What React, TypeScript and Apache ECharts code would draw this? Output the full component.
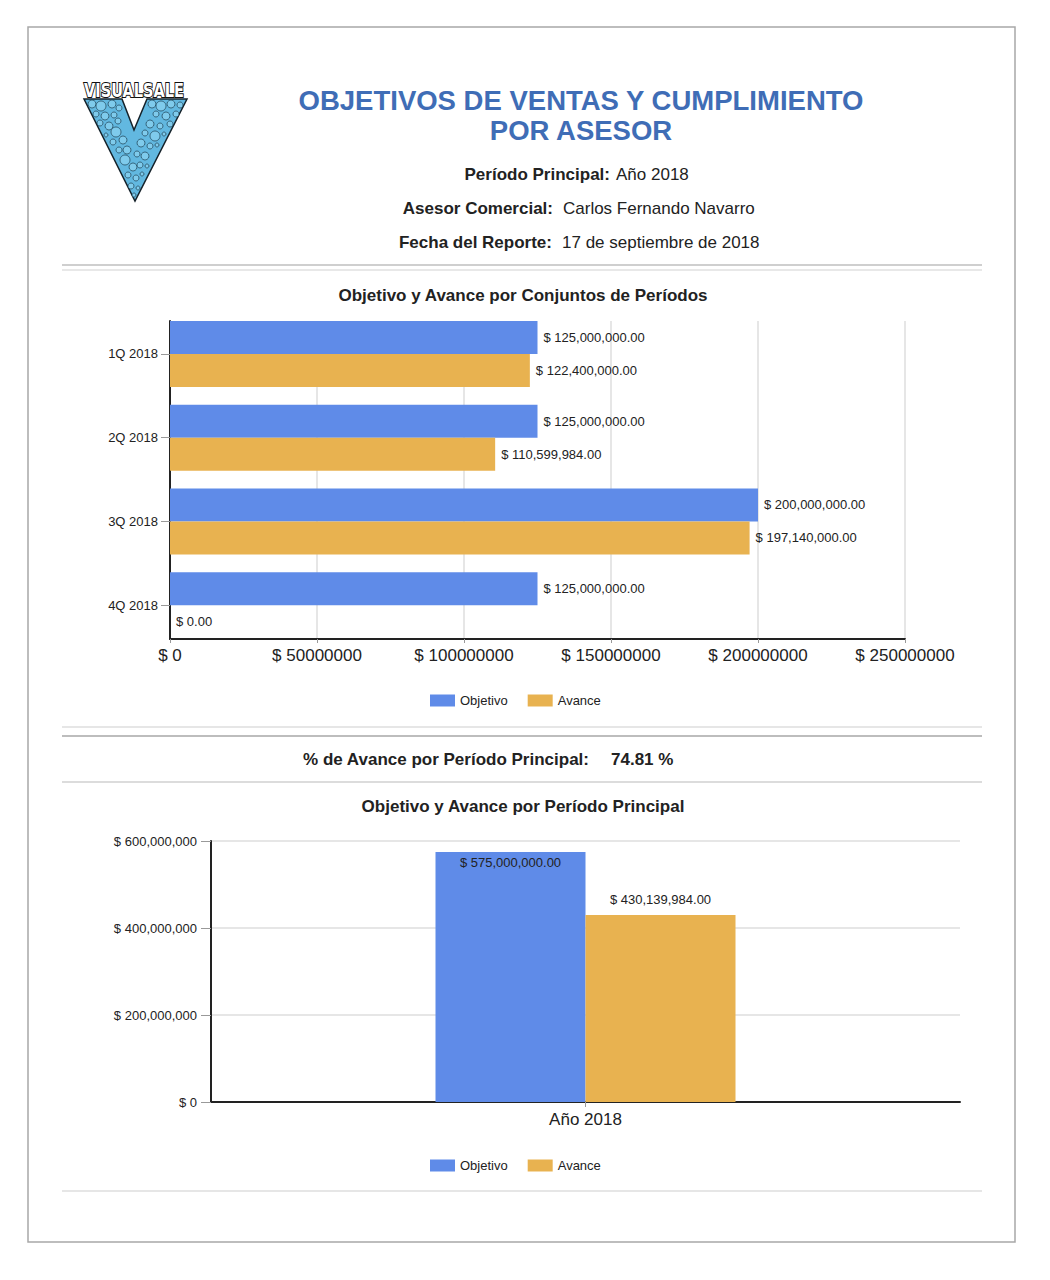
import React, { useEffect, useRef } from "react";
import * as echarts from "echarts";

// ---- Data ----
const periods = ["1Q 2018", "2Q 2018", "3Q 2018", "4Q 2018"];
const objetivoTrim = [125000000, 125000000, 200000000, 125000000];
const avanceTrim = [122400000, 110599984, 197140000, 0];

const mainPeriod = ["Año 2018"];
const objetivoAnual = [575000000];
const avanceAnual = [430139984];

const seriesNames = ["Objetivo", "Avance"];
const avancePct = "74.81 %";

const FONT = "'Liberation Sans', Arial, Helvetica, sans-serif";
const BLUE = "#5F8BE8";
const ORANGE = "#E8B250";
const TXT = "#222222";

const fmtMoney = (v: number) =>
  "$ " + v.toLocaleString("en-US", { minimumFractionDigits: 2, maximumFractionDigits: 2 });
const fmtInt = (v: number) => "$ " + v.toLocaleString("en-US", { maximumFractionDigits: 0 });

function buildLogo(): any[] {
  const bubbles: [number, number, number][] = [
    [92, 104, 4], [101, 106, 5], [112, 104, 4], [119, 108, 3], [96, 114, 3],
    [105, 116, 4], [114, 115, 3], [100, 123, 3], [109, 126, 4], [118, 121, 3],
    [116, 132, 5], [106, 135, 2], [123, 140, 4], [113, 142, 3], [119, 150, 3],
    [127, 150, 4], [125, 160, 5], [133, 167, 4], [128, 175, 3], [136, 178, 3],
    [131, 186, 3], [138, 188, 2], [134, 195, 2], [152, 104, 4], [161, 106, 5],
    [171, 104, 4], [180, 105, 3], [156, 114, 3], [166, 116, 4], [176, 114, 3],
    [150, 124, 4], [160, 126, 3], [170, 124, 3], [145, 133, 3], [155, 136, 5],
    [164, 134, 2], [141, 143, 4], [150, 146, 3], [157, 145, 2], [137, 154, 3],
    [145, 156, 4], [140, 165, 3], [147, 166, 2], [142, 174, 2],
  ];
  const items: any[] = [
    {
      type: "polygon",
      shape: {
        points: [
          [84, 99], [122, 99], [134, 130], [147, 99], [187, 99], [135, 201],
        ],
      },
      style: { fill: "#62B8E0", stroke: "#15222a", lineWidth: 1.5 },
    },
  ];
  bubbles.forEach(([x, y, r]) => {
    items.push({
      type: "circle",
      shape: { cx: x, cy: y, r },
      style: { fill: "#7FCBEC", stroke: "#1D3F52", lineWidth: 0.7 },
    });
  });
  items.push({
    type: "text",
    x: 134,
    y: 91,
    style: {
      text: "VISUALSALE",
      font: `bold 19px 'DejaVu Sans Condensed', ${FONT}`,
      fill: "#fff",
      stroke: "#111",
      lineWidth: 2,
      textAlign: "center",
      textVerticalAlign: "middle",
    },
    scaleX: 0.85,
    originX: 0,
    originY: 0,
  });
  return items;
}

function hline(y: number, color: string, w = 2) {
  return {
    type: "line",
    shape: { x1: 62, y1: y, x2: 982, y2: y },
    style: { stroke: color, lineWidth: w },
  };
}

function txt(x: number, y: number, text: string, opts: any = {}) {
  return {
    type: "text",
    x,
    y,
    style: {
      text,
      font: opts.font || `17px ${FONT}`,
      fill: opts.fill || TXT,
      textAlign: opts.align || "center",
      textVerticalAlign: "middle",
    },
  };
}

const barLabel = (position: string, distance: number) => ({
  show: true,
  position,
  distance,
  formatter: (p: any) => fmtMoney(p.value),
  fontSize: 13,
  color: TXT,
  fontFamily: FONT,
});

const legendAt = (top: number) => ({
  data: seriesNames,
  left: 430,
  top,
  padding: 0,
  icon: "rect",
  itemWidth: 25,
  itemHeight: 12,
  itemGap: 20,
  textStyle: { fontSize: 13, color: TXT, fontFamily: FONT },
});

export default function App() {
  const ref = useRef<HTMLDivElement>(null);

  useEffect(() => {
    if (!ref.current) return;
    const chart = echarts.init(ref.current, undefined, { renderer: "svg" });

    const option: any = {
      animation: false,
      backgroundColor: "#ffffff",
      textStyle: { fontFamily: FONT },
      grid: [
        { left: 170, top: 321, width: 735, height: 318 },
        { left: 170, top: 312, width: 735, height: 335 },
        { left: 211, top: 841, width: 749, height: 261 },
      ],
      xAxis: [
        {
          gridIndex: 0,
          type: "value",
          min: 0,
          max: 250000000,
          interval: 50000000,
          axisLine: { show: true, lineStyle: { color: "#222", width: 2 } },
          axisTick: { show: true, length: 4, lineStyle: { color: "#999" } },
          axisLabel: {
            formatter: (v: number) => "$ " + v,
            fontSize: 17,
            color: TXT,
            margin: 8,
            fontFamily: FONT,
          },
          splitLine: { show: true, lineStyle: { color: "#dedede", width: 1.5 } },
        },
        {
          gridIndex: 1,
          type: "value",
          min: 0,
          max: 250000000,
          show: false,
        },
        {
          gridIndex: 2,
          type: "category",
          data: mainPeriod,
          axisLine: { show: true, lineStyle: { color: "#222", width: 2 } },
          axisTick: { show: true, alignWithLabel: true, length: 5, lineStyle: { color: "#999" } },
          axisLabel: { fontSize: 17, color: TXT, margin: 9, fontFamily: FONT },
        },
      ],
      yAxis: [
        {
          gridIndex: 0,
          type: "value",
          min: 0,
          max: 1,
          axisLine: { show: true, lineStyle: { color: "#222", width: 2 } },
          axisTick: { show: false },
          axisLabel: { show: false },
          splitLine: { show: false },
        },
        {
          gridIndex: 1,
          type: "category",
          data: periods,
          inverse: true,
          axisLine: { show: false },
          axisTick: { show: true, alignWithLabel: true, length: 9, lineStyle: { color: "#999" } },
          axisLabel: { fontSize: 13, color: TXT, margin: 12, fontFamily: FONT },
          splitLine: { show: false },
        },
        {
          gridIndex: 2,
          type: "value",
          min: 0,
          max: 600000000,
          interval: 200000000,
          axisLine: { show: true, lineStyle: { color: "#222", width: 2 } },
          axisTick: { show: true, length: 10, lineStyle: { color: "#999" } },
          axisLabel: {
            formatter: (v: number) => fmtInt(v),
            fontSize: 13,
            color: TXT,
            margin: 14,
            fontFamily: FONT,
          },
          splitLine: { show: true, lineStyle: { color: "#dedede", width: 1.5 } },
        },
      ],
      legend: [legendAt(694), legendAt(1159)],
      series: [
        {
          name: seriesNames[0],
          type: "bar",
          xAxisIndex: 1,
          yAxisIndex: 1,
          data: objetivoTrim,
          barWidth: 33,
          barGap: "0%",
          itemStyle: { color: BLUE },
          label: barLabel("right", 6),
        },
        {
          name: seriesNames[1],
          type: "bar",
          xAxisIndex: 1,
          yAxisIndex: 1,
          data: avanceTrim,
          barWidth: 33,
          barGap: "0%",
          itemStyle: { color: ORANGE },
          label: barLabel("right", 6),
        },
        {
          name: seriesNames[0],
          type: "bar",
          xAxisIndex: 2,
          yAxisIndex: 2,
          data: objetivoAnual,
          barWidth: 150,
          barGap: "0%",
          itemStyle: { color: BLUE },
          label: barLabel("insideTop", 4),
        },
        {
          name: seriesNames[1],
          type: "bar",
          xAxisIndex: 2,
          yAxisIndex: 2,
          data: avanceAnual,
          barWidth: 150,
          barGap: "0%",
          itemStyle: { color: ORANGE },
          label: barLabel("top", 9),
        },
      ],
      graphic: [
        {
          type: "rect",
          shape: { x: 28, y: 27, width: 987, height: 1215 },
          style: { fill: "none", stroke: "#a8a8a8", lineWidth: 1.5 },
          z: -1,
        },
        ...buildLogo(),
        txt(581, 100, "OBJETIVOS DE VENTAS Y CUMPLIMIENTO", {
          font: `bold 27.5px ${FONT}`,
          fill: "#3F6DB6",
        }),
        txt(581, 130, "POR ASESOR", { font: `bold 27.5px ${FONT}`, fill: "#3F6DB6" }),
        txt(610, 174, "Período Principal:", { font: `bold 17px ${FONT}`, align: "right" }),
        txt(616, 174, "Año 2018", { align: "left" }),
        txt(553, 208, "Asesor Comercial:", { font: `bold 17px ${FONT}`, align: "right" }),
        txt(563, 208, "Carlos Fernando Navarro", { align: "left" }),
        txt(552, 242, "Fecha del Reporte:", { font: `bold 17px ${FONT}`, align: "right" }),
        txt(562, 242, "17 de septiembre de 2018", { align: "left" }),
        hline(265, "#cfcfcf"),
        hline(270, "#e8e8e8"),
        txt(523, 295, "Objetivo y Avance por Conjuntos de Períodos", {
          font: `bold 17px ${FONT}`,
        }),
        hline(727, "#e6e6e6"),
        hline(736, "#bdbdbd"),
        txt(589, 759, "% de Avance por Período Principal:", {
          font: `bold 17px ${FONT}`,
          align: "right",
        }),
        txt(611, 759, avancePct, { font: `bold 17px ${FONT}`, align: "left" }),
        hline(782, "#dcdcdc"),
        txt(523, 806, "Objetivo y Avance por Período Principal", {
          font: `bold 17px ${FONT}`,
        }),
        hline(1191, "#e6e6e6"),
      ],
    };

    chart.setOption(option);
    return () => chart.dispose();
  }, []);

  return (
    <div
      ref={ref}
      style={{
        position: "absolute",
        left: 0,
        top: 0,
        width: 1050,
        height: 1280,
        background: "#fff",
      }}
    />
  );
}
